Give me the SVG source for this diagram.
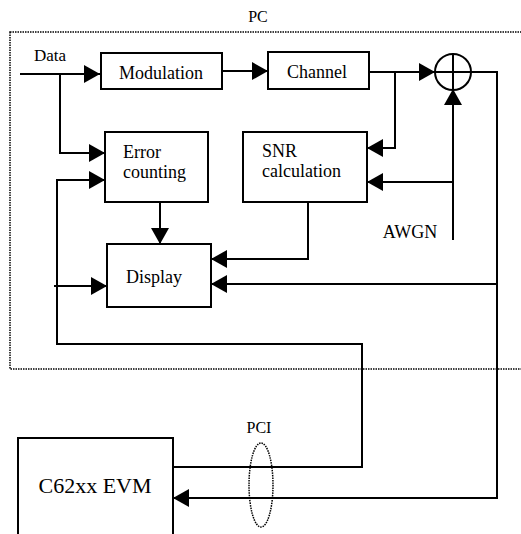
<svg xmlns="http://www.w3.org/2000/svg" width="521" height="534" viewBox="0 0 521 534">
<style>
.box{fill:#fff;stroke:#000;stroke-width:2}
.ln{fill:none;stroke:#000;stroke-width:2}
.dot{fill:none;stroke:#000;stroke-width:1.5;stroke-dasharray:1.5 1}
.t{font-family:'Liberation Serif','Times New Roman',serif;fill:#000;font-size:18px}
.m{text-anchor:middle}
</style>
<defs>
<marker id="ah" markerUnits="userSpaceOnUse" markerWidth="16" markerHeight="18" refX="16" refY="9" orient="auto">
<path d="M0,0 L16,9 L0,18 Z" fill="#000"/>
</marker>
</defs>
<g id="pc-frame">
<rect class="dot" x="10" y="32" width="530" height="337"/>
<text class="t m" x="258" y="22" font-family="Liberation Serif, serif" font-size="16" style="font-size:16px">PC</text>
</g>
<g id="connectors">
<path class="ln" d="M20,74 H100" marker-end="url(#ah)"/>
<path class="ln" d="M60,74 V153 H105" marker-end="url(#ah)"/>
<path class="ln" d="M222,71 H268" marker-end="url(#ah)"/>
<path class="ln" d="M369,72 H435" marker-end="url(#ah)"/>
<path class="ln" d="M395,72 V148 H367" marker-end="url(#ah)"/>
<path class="ln" d="M453,240 V89" marker-end="url(#ah)"/>
<path class="ln" d="M453,182 H367" marker-end="url(#ah)"/>
<path class="ln" d="M471,72 H497 V498 H173" marker-end="url(#ah)"/>
<path class="ln" d="M497,284 H211" marker-end="url(#ah)"/>
<path class="ln" d="M308,202 V259 H211" marker-end="url(#ah)"/>
<path class="ln" d="M160,202 V244" marker-end="url(#ah)"/>
<path class="ln" d="M173,467 H362 V344 H57 V180 H105" marker-end="url(#ah)"/>
<path class="ln" d="M54,286 H107" marker-end="url(#ah)"/>
</g>
<g id="data-label"><text class="t m" x="50" y="61" font-family="Liberation Serif, serif" style="font-size:17px">Data</text></g>
<g id="modulation">
<rect class="box" x="101" y="53" width="121" height="36"/>
<text class="t m" x="161" y="79" font-family="Liberation Serif, serif">Modulation</text>
</g>
<g id="channel">
<rect class="box" x="268" y="52" width="101" height="37"/>
<text class="t m" x="317" y="78" font-family="Liberation Serif, serif">Channel</text>
</g>
<g id="adder">
<circle cx="453" cy="72" r="18" fill="#fff" stroke="#000" stroke-width="2"/>
<path d="M435,72 H471 M453,54 V90" stroke="#000" stroke-width="2"/>
</g>
<g id="error-counting">
<rect class="box" x="105" y="132" width="103" height="70"/>
<text class="t" x="123" y="158" font-family="Liberation Serif, serif">Error</text>
<text class="t" x="123" y="178" font-family="Liberation Serif, serif">counting</text>
</g>
<g id="snr-calculation">
<rect class="box" x="243" y="132" width="124" height="70"/>
<text class="t" x="262" y="157" font-family="Liberation Serif, serif">SNR</text>
<text class="t" x="262" y="177" font-family="Liberation Serif, serif">calculation</text>
</g>
<g id="display">
<rect class="box" x="107" y="244" width="104" height="63"/>
<text class="t m" x="154" y="283" font-family="Liberation Serif, serif">Display</text>
</g>
<g id="awgn"><text class="t m" x="410" y="238" font-family="Liberation Serif, serif">AWGN</text></g>
<g id="evm">
<rect class="box" x="18" y="438" width="155" height="110"/>
<text class="t m" x="95" y="493" font-family="Liberation Serif, serif" style="font-size:22px">C62xx EVM</text>
</g>
<g id="pci">
<ellipse class="dot" cx="261" cy="485" rx="12" ry="42"/>
<text class="t m" x="259" y="433" font-family="Liberation Serif, serif" style="font-size:16px">PCI</text>
</g>
</svg>
